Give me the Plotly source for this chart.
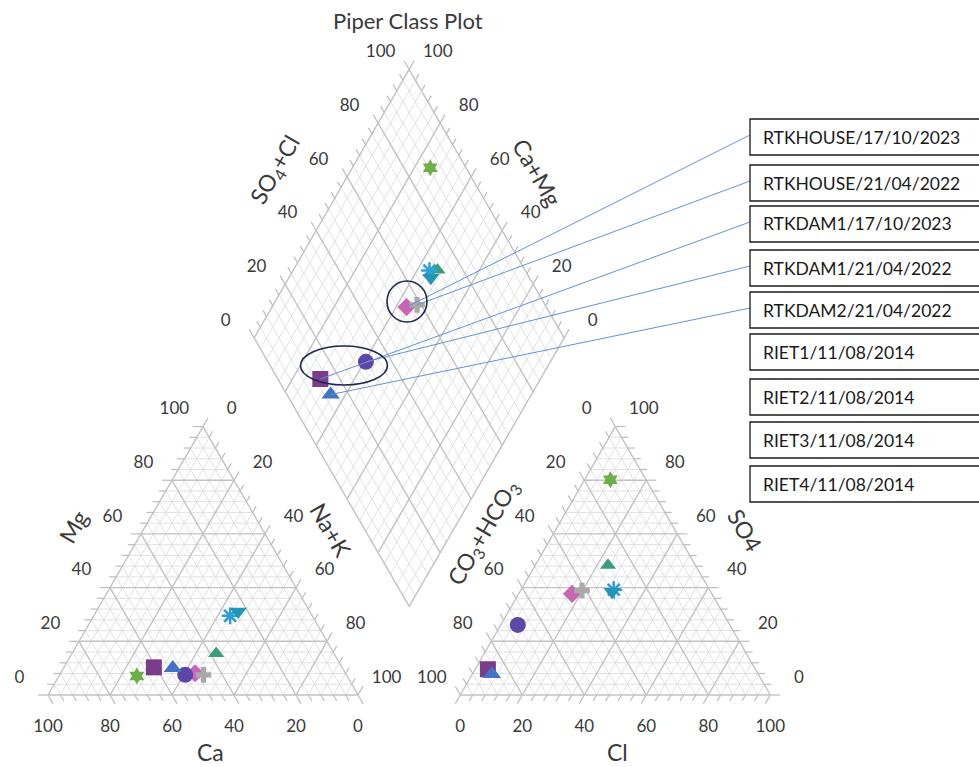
import math
import plotly.graph_objects as go

# ---- sample chemistry (percent of meq/L) ----
samples = ["RTKHOUSE/17/10/2023", "RTKHOUSE/21/04/2022", "RTKDAM1/17/10/2023",
           "RTKDAM1/21/04/2022", "RTKDAM2/21/04/2022", "RIET1/11/08/2014",
           "RIET2/11/08/2014", "RIET3/11/08/2014", "RIET4/11/08/2014"]
ca = [48.5, 46.1, 60.7, 52.0, 54.7, 67.8, 38.0, 26.5, 23.1]
mg = [8.1, 7.5, 10.3, 7.5, 10.1, 7.1, 15.5, 29.5, 31.1]
na_k = [43.4, 46.4, 29.0, 40.5, 35.2, 25.1, 46.5, 44.0, 45.8]
co3_hco3 = [45.1, 41.3, 86.3, 68.4, 85.9, 11.5, 28.2, 30.9, 31.8]
so4 = [37.7, 38.9, 9.6, 26.1, 7.8, 80.2, 48.3, 39.2, 38.5]
cl = [17.2, 19.8, 4.1, 5.5, 6.3, 8.3, 23.5, 29.9, 29.7]

tick_values = [0, 20, 40, 60, 80, 100]
labelled = samples[:5]  # samples with leader lines

# marker styles per sample
symbols = ["diamond", "cross", "square", "circle", "triangle-up",
           "hexagram", "triangle-up", "asterisk-open", "triangle-down"]
colors = ["#C865B5", "#A9A9A9", "#7B3C8C", "#5D46A8", "#4472C4",
          "#6DB04A", "#3A9E79", "#2E9ED6", "#2297B5"]
sizes = [14, 13, 16, 16, 16, 13, 14, 14, 15]

# ---- diagram geometry (one unit = 1 % of a triangle side) ----
W, HGT = 979, 767
S = 3.1                      # pixels per unit
OX, OY = 48.0, 695.0         # pixel position of the cation triangle's Ca corner
H = 100 * math.sqrt(3) / 2
GAP = 33.0
RX0 = 100 + GAP
BX, BY = 100 + GAP / 2, GAP * math.sqrt(3) / 2
LAB = 33 / S                 # tick-label distance from the edge
TMAJ, TMIN = 10 / S, 7 / S   # tick lengths

def px(x, y):
    return ((x - OX) / S, (OY - y) / S)

def cat_xy(c, m, n):
    t = c + m + n
    m, n = 100 * m / t, 100 * n / t
    return (n + m / 2, H * m / 100)

def an_xy(k, s, c):
    t = k + s + c
    s, c = 100 * s / t, 100 * c / t
    return (RX0 + c + s / 2, H * s / 100)

def dm_xy(a, b):
    return (BX + 0.5 * (a - b), BY + H / 100 * (a + b))

c60, s60 = 0.5, math.sqrt(3) / 2
minor_x, minor_y, major_x, major_y = [], [], [], []
tick_x, tick_y = [], []
lab_x, lab_y, lab_t = [], [], []

def seg(p0, p1, major):
    xs, ys = (major_x, major_y) if major else (minor_x, minor_y)
    xs += [p0[0], p1[0], None]
    ys += [p0[1], p1[1], None]

def tick(p, d, major):
    ln = TMAJ if major else TMIN
    tick_x.extend([p[0], p[0] + d[0] * ln, None])
    tick_y.extend([p[1], p[1] + d[1] * ln, None])

def label(p, nrm, v):
    lab_x.append(p[0] + nrm[0] * LAB)
    lab_y.append(p[1] + nrm[1] * LAB)
    lab_t.append(str(v))

for v in range(0, 101, 4):
    major = v % 20 == 0
    # cation triangle
    p0, p1 = cat_xy(100 - v, v, 0), cat_xy(0, v, 100 - v)          # Mg
    seg(p0, p1, major); tick(p0, (-1, 0), major)
    if v in tick_values: label(p0, (-s60, c60), v)
    p0, p1 = cat_xy(100 - v, 0, v), cat_xy(0, 100 - v, v)          # Na+K
    seg(p0, p1, major); tick(p1, (c60, s60), major)
    if v in tick_values: label(p1, (s60, c60), v)
    p0, p1 = cat_xy(v, 100 - v, 0), cat_xy(v, 0, 100 - v)          # Ca
    seg(p0, p1, major); tick(p1, (c60, -s60), major)
    if v in tick_values: label(p1, (0, -1), v)
    # anion triangle
    p0, p1 = an_xy(100 - v, v, 0), an_xy(0, v, 100 - v)            # SO4
    seg(p0, p1, major); tick(p1, (1, 0), major)
    if v in tick_values: label(p1, (s60, c60), v)
    p0, p1 = an_xy(100 - v, 0, v), an_xy(0, 100 - v, v)            # Cl
    seg(p0, p1, major); tick(p0, (-c60, -s60), major)
    if v in tick_values: label(p0, (0, -1), v)
    p0, p1 = an_xy(v, 100 - v, 0), an_xy(v, 0, 100 - v)            # CO3+HCO3
    seg(p0, p1, major); tick(p0, (-c60, s60), major)
    if v in tick_values: label(p0, (-s60, c60), v)
    # diamond
    p0, p1 = dm_xy(v, 0), dm_xy(v, 100)                            # SO4+Cl
    seg(p0, p1, major); tick(p1, (-c60, s60), major)
    if v in tick_values: label(p1, (-s60, c60), v)
    p0, p1 = dm_xy(0, v), dm_xy(100, v)                            # Ca+Mg
    seg(p0, p1, major); tick(p1, (c60, s60), major)
    if v in tick_values: label(p1, (s60, c60), v)

fig = go.Figure()
fig.add_trace(go.Scatter(x=minor_x, y=minor_y, mode="lines",
                         line=dict(color="#DEDEDE", width=0.9), hoverinfo="skip"))
fig.add_trace(go.Scatter(x=tick_x, y=tick_y, mode="lines",
                         line=dict(color="#BDBDBD", width=1.2), hoverinfo="skip"))
fig.add_trace(go.Scatter(x=major_x, y=major_y, mode="lines",
                         line=dict(color="#C2C2C2", width=1.4), hoverinfo="skip"))
fig.add_trace(go.Scatter(x=lab_x, y=lab_y, text=lab_t, mode="text",
                         textfont=dict(family="Lato", size=17, color="#3A3A3A"),
                         hoverinfo="skip"))

# sample positions in each field
pos = {}
for i, name in enumerate(samples):
    pc = cat_xy(ca[i], mg[i], na_k[i])
    pa = an_xy(co3_hco3[i], so4[i], cl[i])
    tc = ca[i] + mg[i] + na_k[i]
    ta = co3_hco3[i] + so4[i] + cl[i]
    pd = dm_xy(100 * (so4[i] + cl[i]) / ta, 100 * (ca[i] + mg[i]) / tc)
    pos[name] = pd
    open_sym = symbols[i].endswith("open")
    fig.add_trace(go.Scatter(
        x=[pc[0], pa[0], pd[0]], y=[pc[1], pa[1], pd[1]], mode="markers", name=name,
        marker=dict(symbol=symbols[i], size=sizes[i], color=colors[i],
                    line=dict(color=colors[i], width=2.5 if open_sym else 0))))

# label boxes with leader lines
box_tops = [119, 165, 206, 250, 292, 334, 379, 422, 466]
BOX_L, BOX_H = 750, 36
shapes, annotations = [], []
for name, top in zip(samples, box_tops):
    shapes.append(dict(type="rect", xref="paper", yref="paper",
                       x0=BOX_L / W, x1=1010 / W, y0=1 - (top + BOX_H) / HGT, y1=1 - top / HGT,
                       line=dict(color="#1a1a1a", width=1.3), fillcolor="white"))
    annotations.append(dict(xref="paper", yref="paper", x=761 / W, y=1 - (top + BOX_H / 2) / HGT,
                            text=name, showarrow=False, xanchor="left", yanchor="middle",
                            font=dict(family="Lato", size=17.5, color="#1a1a1a")))
    if name in labelled:
        sx, sy = px(BOX_L, top + 16)
        tx, ty = pos[name]
        fig.add_trace(go.Scatter(x=[sx, tx], y=[sy, ty], mode="lines",
                                 line=dict(color="#6690DA", width=1), hoverinfo="skip"))

# group outlines in the diamond
for cxp, cyp, rx, ry in [(407, 301.5, 20, 20.5), (344, 365.5, 43.5, 19.5)]:
    x0, y0 = px(cxp - rx, cyp + ry)
    x1, y1 = px(cxp + rx, cyp - ry)
    shapes.append(dict(type="circle", xref="x", yref="y", x0=x0, x1=x1, y0=y0, y1=y1,
                       line=dict(color="#1B2A4A", width=1.6), layer="above"))

def title(text, xp, yp, angle=0, size=23):
    x, y = px(xp, yp)
    annotations.append(dict(x=x, y=y, xref="x", yref="y", text=text, showarrow=False,
                            textangle=angle, xanchor="center", yanchor="middle",
                            font=dict(family="Lato", size=size, color="#3A3A3A")))

title("Piper Class Plot", 408, 20, size=22)
title("Mg", 73, 527, -60)
title("Na+K", 331, 530, 60)
title("Ca", 210, 752)
title("CO<sub>3</sub>+HCO<sub>3</sub>", 483, 533, -60)
title("SO4", 745, 530, 60)
title("Cl", 617, 752)
title("SO<sub>4</sub>+Cl", 275, 170, -60)
title("Ca+Mg", 537, 172, 60)

x_lo, y_top = px(0, 0)
x_hi, y_bot = px(W, HGT)
fig.update_layout(
    width=W, height=HGT, autosize=False, showlegend=False,
    margin=dict(l=0, r=0, t=0, b=0),
    paper_bgcolor="white", plot_bgcolor="white",
    xaxis=dict(range=[x_lo, x_hi], visible=False, fixedrange=True),
    yaxis=dict(range=[y_bot, y_top], visible=False, fixedrange=True),
    shapes=shapes, annotations=annotations,
)
fig.write_html("out.html")
